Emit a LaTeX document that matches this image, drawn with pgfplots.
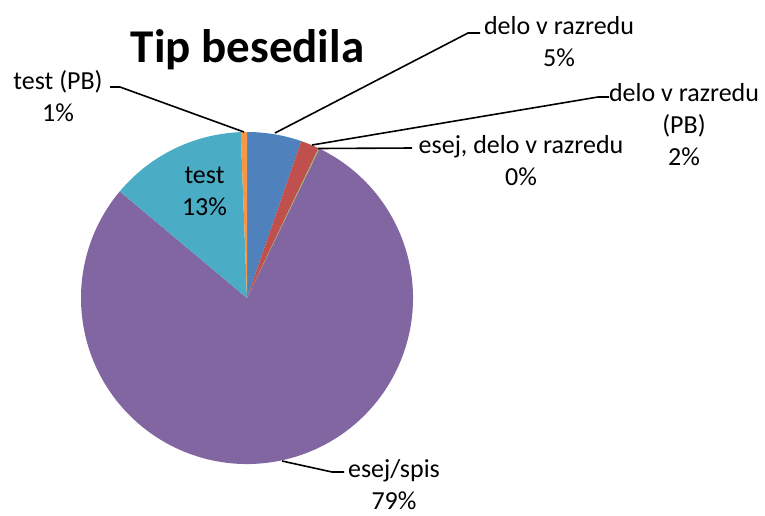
\documentclass[border=0pt]{standalone}
\usepackage{pgfplots}
\pgfplotsset{compat=1.18}
\usepackage{fontspec}
\setmainfont{Carlito}
\definecolor{cBlue}{HTML}{4F81BD}
\definecolor{cRed}{HTML}{C0504D}
\definecolor{cGreen}{HTML}{9BBB59}
\definecolor{cPurple}{HTML}{8166A1}
\definecolor{cAqua}{HTML}{4BACC6}
\definecolor{cOrange}{HTML}{F79646}
% pie slice: start percent, end percent, colour (percent shares below)
% delo v razredu 5.3, delo v razredu (PB) 1.8, esej, delo v razredu 0.1,
% esej/spis 78.9, test 13.3, test (PB) 0.6
\newcommand{\pieslice}[3]{%
  \fill[#3] (axis cs:247,298) -- ++({90-3.6*#1}:83pt)
    arc[start angle={90-3.6*#1}, end angle={90-3.6*#2}, radius=83pt] -- cycle;}
\begin{document}
\begin{tikzpicture}
\begin{axis}[
  scale only axis, width=382.5pt, height=257.5pt,
  xmin=0, xmax=765, ymin=0, ymax=515, y dir=reverse,
  enlargelimits=false, hide axis, clip=false]
\coordinate (sw) at (axis cs:0,515);
\coordinate (ne) at (axis cs:765,0);
\pieslice{0}{5.3}{cBlue}
\pieslice{5.3}{7.1}{cRed}
\pieslice{7.1}{7.2}{cGreen}
\pieslice{7.2}{86.1}{cPurple}
\pieslice{86.1}{99.4}{cAqua}
\pieslice{99.4}{100}{cOrange}
% leader lines
\draw[black, line width=0.8pt] (axis cs:275,133) -- (axis cs:468,33) -- (axis cs:480,33);
\draw[black, line width=0.8pt] (axis cs:312,145) -- (axis cs:598,97) -- (axis cs:609,97);
\draw[black, line width=0.8pt] (axis cs:318,148.5) -- (axis cs:412,148);
\draw[black, line width=0.8pt] (axis cs:282,461) -- (axis cs:332,472) -- (axis cs:344,472);
\draw[black, line width=0.8pt] (axis cs:110,87) -- (axis cs:120,87) -- (axis cs:244,132);
% labels
\tikzset{lab/.style={align=center, inner sep=0pt, font=\fontsize{13}{16}\selectfont}}
\node[lab] at (axis cs:559,41.5) {delo v razredu\\5\%};
\node[lab] at (axis cs:684,125) {delo v razredu\\(PB)\\2\%};
\node[lab] at (axis cs:521,161) {esej, delo v razredu\\0\%};
\node[lab] at (axis cs:394,485) {esej/spis\\79\%};
\node[lab] at (axis cs:204.5,191) {test\\13\%};
\node[lab] at (axis cs:58,96) {test (PB)\\1\%};
\node[anchor=base, inner sep=0pt, font=\fontsize{23.5}{28}\selectfont\bfseries] at (axis cs:247.5,62) {Tip besedila};
\end{axis}
\pgfresetboundingbox
\path (sw) rectangle (ne);
\end{tikzpicture}
\end{document}
